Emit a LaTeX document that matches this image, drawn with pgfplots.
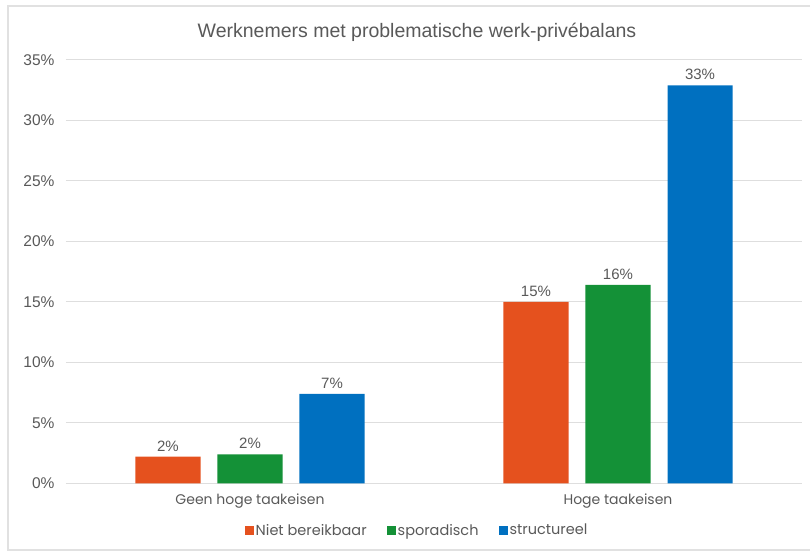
\documentclass[border=0pt]{standalone}
\usepackage{fontspec}
\setmainfont{Liberation Sans}
\newfontfamily\catfont{Poppins}
\usepackage{pgfplots}
\pgfplotsset{compat=1.18}
\definecolor{cOrange}{RGB}{229,81,30}
\definecolor{cGreen}{RGB}{20,145,55}
\definecolor{cBlue}{RGB}{0,112,192}
\definecolor{txtgray}{RGB}{89,89,89}
\definecolor{gridgray}{RGB}{222,222,222}
\definecolor{framegray}{RGB}{225,225,225}
\begin{document}
\begin{tikzpicture}[x=1pt,y=1pt]
\useasboundingbox (0,0) rectangle (810,552);
\draw[framegray, line width=1.2pt] (8,2) rectangle (812,546);
\node[text=txtgray, font=\fontsize{19.5}{22}\selectfont] at (417,520) {Werknemers met problematische werk-privébalans};
\begin{axis}[
  at={(66pt,68.7pt)}, anchor=south west,
  scale only axis, width=736pt, height=423.3pt,
  xmin=-0.5, xmax=1.5, ymin=0, ymax=35,
  xtick={0,1}, xticklabels={Geen hoge taakeisen, Hoge taakeisen},
  ytick={0,5,...,35},
  /pgf/number format/assume math mode=true,
  yticklabel={\pgfmathprintnumber{\tick}\%},
  yticklabel style={font=\fontsize{15.5}{18}\selectfont, text=txtgray, xshift=-8pt},
  xticklabel style={font=\catfont\fontsize{14}{16}\selectfont, text=txtgray, yshift=-7pt},
  ymajorgrids, grid style={gridgray, line width=1pt},
  axis line style={draw=none},
  major tick length=0pt,
  ybar, bar width=0.177,
  nodes near coords={\pgfmathprintnumber[fixed,precision=0]{\pgfplotspointmeta}\%},
  every node near coord/.append style={font=\fontsize{15}{18}\selectfont, text=txtgray, yshift=2pt},
  legend columns=3,
  legend style={at={(0.477,-0.111)}, anchor=center, draw=none, fill=none,
    font=\catfont\fontsize{14.5}{17}\selectfont, text=txtgray,
    /tikz/every odd column/.append style={column sep=0pt},
    /tikz/every even column/.append style={column sep=18pt}},
  legend image code/.code={\fill[#1] (0pt,-4.5pt) rectangle (9pt,4.5pt);},
]
\addplot[fill=cOrange, draw=none, bar shift=-0.223] coordinates {(0,2.2) (1,15.0)};
\addplot[fill=cGreen, draw=none, bar shift=0] coordinates {(0,2.4) (1,16.4)};
\addplot[fill=cBlue, draw=none, bar shift=0.223] coordinates {(0,7.4) (1,32.9)};
\legend{Niet bereikbaar, sporadisch, structureel}
\end{axis}
\end{tikzpicture}
\end{document}
